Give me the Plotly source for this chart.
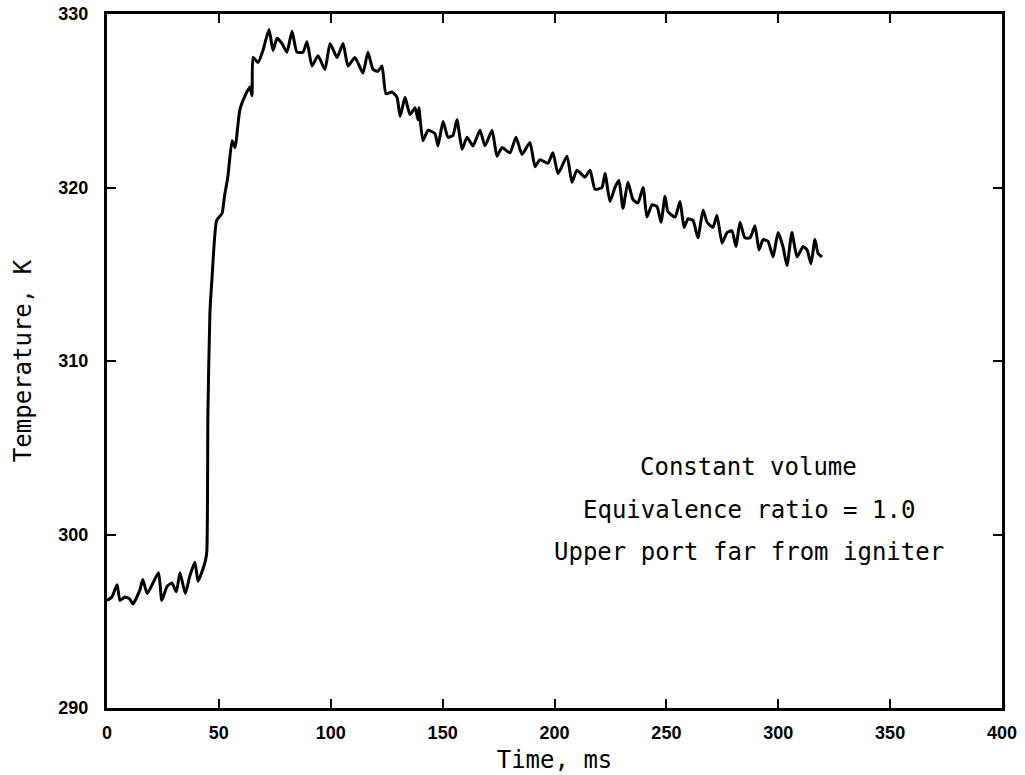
import plotly.graph_objects as go

time_ms = [0, 2.2, 4.5, 5.8, 8, 10, 11.6, 14.7, 16, 18, 23, 24.5, 26.8, 29, 31, 32.6, 35, 37, 39.3, 40.7,
           43.8, 44.6, 45.1, 46.0, 46.9, 49.0, 51.4, 52.5, 54.0, 55.9, 57.2, 59.4, 61.7, 63.9, 64.8, 65.3,
           67.5, 69.7, 72.4, 74.2, 76, 78.2, 80.4, 82.7, 84.9, 87.6, 89.4, 91.6, 94.3, 97.4, 99.7, 102.8,
           105.5, 107.7, 110.8, 114.4, 116.6, 118.9, 121.1, 122.9, 124.7, 127.4, 129.6, 131, 133.2, 135.4,
           137.7, 139, 139.4, 141.2, 143.5, 146.6, 147.9, 150.2, 152.4, 154.6, 156.4, 158.7, 160.9, 163.6,
           166.7, 168.9, 172.1, 174.3, 176.5, 180.1, 182.8, 185.5, 189, 191.3, 193.5, 197.1, 199.3, 201.6,
           205.6, 207.8, 210, 213.6, 215.9, 218.1, 221.2, 222.6, 224.8, 227, 228.8, 230.6, 232.8, 235.1,
           237.3, 239.6, 241.3, 243.6, 245.8, 247.6, 249.4, 250.7, 253.9, 256.1, 257.9, 259.7, 261.9, 264.1,
           266.4, 268.2, 270.8, 272.6, 274.9, 277.1, 279.3, 281.1, 282.9, 285.1, 287.4, 289.6, 291.4, 293.2,
           295.4, 297.7, 299.9, 302.1, 303.9, 306.1, 308.4, 311.1, 312.9, 314.6, 316.4, 317.8, 319.6]
temperature_k = [296.2, 296.4, 297.1, 296.2, 296.4, 296.3, 296.0, 296.8, 297.4, 296.6, 297.8, 296.2, 297.0,
                 297.2, 296.7, 297.8, 296.6, 297.6, 298.4, 297.3, 298.4, 299.0, 307.0, 312.8, 314.7, 318.1,
                 318.5, 319.5, 320.6, 322.7, 322.3, 324.5, 325.3, 325.8, 325.3, 327.5, 327.2, 327.9, 329.1,
                 327.9, 328.6, 328.3, 327.8, 329.0, 327.8, 327.8, 328.4, 327.0, 327.6, 326.8, 328.3, 327.5,
                 328.3, 327.0, 327.5, 326.6, 327.8, 326.8, 326.7, 327.0, 325.4, 325.5, 325.2, 324.1, 325.2,
                 324.2, 324.6, 323.9, 324.6, 322.7, 323.3, 323.1, 322.4, 323.8, 322.9, 323.0, 323.9, 322.2,
                 322.9, 322.4, 323.3, 322.4, 323.3, 321.8, 322.3, 322.0, 322.9, 321.9, 322.6, 321.2, 321.6,
                 321.4, 322.0, 320.8, 321.8, 320.3, 321.0, 320.6, 321.0, 319.9, 320.0, 320.8, 319.2, 320.0,
                 320.4, 318.8, 320.3, 319.3, 319.1, 320.0, 318.3, 319.0, 318.9, 318.0, 319.5, 318.6, 318.3,
                 319.2, 317.7, 318.2, 318.1, 317.1, 318.7, 318.0, 317.7, 318.4, 316.8, 317.4, 317.5, 316.6,
                 318.0, 317.1, 317.1, 317.8, 316.4, 317.0, 316.9, 316.0, 317.4, 316.6, 315.5, 317.4, 316.0,
                 316.6, 316.4, 315.6, 317.0, 316.2, 316.0]

x_ticks = [0, 50, 100, 150, 200, 250, 300, 350, 400]
y_ticks = [290, 300, 310, 320, 330]
note_lines = ["Constant volume", "Equivalence ratio = 1.0", "Upper port far from igniter"]

title_font = dict(family="DejaVu Sans Mono", size=24, color="black")
tick_font = dict(family="Liberation Sans", size=18, color="black", weight="bold")

fig = go.Figure()
fig.add_trace(go.Scatter(x=time_ms, y=temperature_k, mode="lines",
                         line=dict(color="black", width=3, shape="spline", smoothing=0.5),
                         showlegend=False))

note_y = [0.347, 0.285, 0.225]
for txt, yy in zip(note_lines, note_y):
    fig.add_annotation(x=0.717, y=yy, xref="paper", yref="paper", text=txt,
                       showarrow=False, xanchor="center", yanchor="middle",
                       font=dict(family="DejaVu Sans Mono", size=24, color="black"))

axis_common = dict(showline=True, linecolor="black", linewidth=3, mirror="ticks",
                   ticks="inside", ticklen=9, tickwidth=2, tickcolor="black",
                   showgrid=False, zeroline=False, tickfont=tick_font, automargin=False)

fig.update_xaxes(range=[0, 400], tickvals=x_ticks, ticktext=[str(v) for v in x_ticks],
                 ticklabelstandoff=6,
                 title=dict(text="Time, ms", font=title_font, standoff=10), **axis_common)
fig.update_yaxes(range=[290, 330], tickvals=y_ticks, ticktext=[str(v) for v in y_ticks],
                 ticklabelstandoff=12,
                 title=dict(text="Temperature, K", font=title_font, standoff=20), **axis_common)

fig.update_layout(width=1025, height=775, paper_bgcolor="white", plot_bgcolor="white",
                  margin=dict(l=107, r=23, t=14, b=67))

fig.write_html("out.html")
